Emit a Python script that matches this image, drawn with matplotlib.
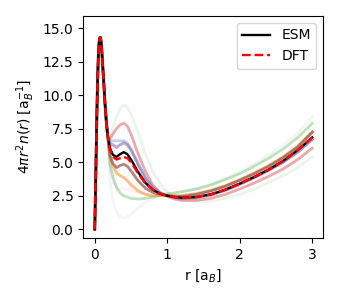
import numpy as np
import matplotlib
matplotlib.use("Agg")
import matplotlib.pyplot as plt

# shared part of all curves (core peak)
r_head = [0.0, 0.01, 0.02, 0.03, 0.04, 0.05, 0.06, 0.07, 0.08, 0.09, 0.1, 0.12, 0.14, 0.16, 0.18]
y_head = [0.0, 2.8, 5.8, 8.8, 11.3, 13.0, 13.9, 14.3, 14.3, 13.9, 13.1, 11.3, 9.5, 8.0, 6.9]

# part where the curves differ
r_tail = [0.21, 0.25, 0.3, 0.35, 0.4, 0.45, 0.5, 0.6, 0.7, 0.8, 0.9, 1.0,
          1.1, 1.2, 1.4, 1.6, 1.8, 2.0, 2.2, 2.4, 2.6, 2.8, 3.0]

esm = [6.05, 5.55, 5.4, 5.6, 5.75, 5.6, 5.2, 4.25, 3.45, 2.95, 2.65, 2.5,
       2.4, 2.35, 2.4, 2.6, 2.95, 3.4, 3.9, 4.45, 5.1, 5.9, 6.85]
dft = [5.95, 5.4, 5.2, 5.3, 5.4, 5.3, 5.0, 4.15, 3.4, 2.95, 2.65, 2.5,
       2.4, 2.35, 2.4, 2.6, 2.95, 3.4, 3.9, 4.45, 5.1, 5.9, 6.85]

it_blue = [6.5, 6.6, 6.6, 6.6, 6.6, 6.45, 6.0, 4.9, 3.85, 3.1, 2.7, 2.5,
           2.35, 2.3, 2.35, 2.55, 2.9, 3.35, 3.85, 4.4, 5.0, 5.75, 6.7]
it_orange = [5.4, 4.7, 4.2, 4.0, 3.85, 3.6, 3.3, 2.85, 2.6, 2.5, 2.5, 2.5,
             2.5, 2.5, 2.65, 2.9, 3.25, 3.7, 4.2, 4.75, 5.4, 6.2, 7.25]
it_green = [4.9, 3.9, 3.1, 2.7, 2.5, 2.4, 2.3, 2.25, 2.3, 2.4, 2.55, 2.65,
            2.7, 2.8, 3.0, 3.3, 3.7, 4.15, 4.7, 5.3, 6.0, 6.85, 7.9]
it_red = [6.7, 7.1, 7.5, 7.8, 7.9, 7.7, 7.1, 5.6, 4.3, 3.3, 2.75, 2.45,
          2.25, 2.15, 2.15, 2.3, 2.6, 3.0, 3.45, 3.95, 4.5, 5.2, 6.05]
it_purple = [6.4, 6.3, 6.1, 6.3, 6.45, 6.3, 5.9, 4.8, 3.8, 3.1, 2.7, 2.5,
             2.35, 2.3, 2.35, 2.55, 2.9, 3.35, 3.85, 4.4, 5.0, 5.75, 6.7]
it_brown = [5.5, 4.9, 4.6, 4.75, 4.85, 4.7, 4.35, 3.6, 3.05, 2.75, 2.6, 2.5,
            2.45, 2.45, 2.6, 2.85, 3.2, 3.65, 4.15, 4.7, 5.35, 6.15, 7.25]
it_pink = [4.6, 3.6, 3.1, 2.95, 3.0, 2.95, 2.85, 2.7, 2.6, 2.55, 2.55, 2.5,
           2.5, 2.5, 2.6, 2.85, 3.2, 3.6, 4.1, 4.65, 5.3, 6.05, 7.0]
it_gray = [3.6, 2.2, 1.3, 0.95, 0.85, 0.9, 1.1, 1.6, 2.0, 2.3, 2.45, 2.55,
           2.65, 2.75, 3.0, 3.35, 3.8, 4.3, 4.9, 5.55, 6.3, 7.2, 8.4]
it_pale = [6.9, 7.6, 8.4, 9.0, 9.25, 9.1, 8.6, 7.2, 5.6, 4.3, 3.4, 2.8,
           2.4, 2.2, 2.05, 2.1, 2.3, 2.6, 3.0, 3.5, 4.0, 4.6, 5.4]

iterations = [
    (it_pale, "tab:green", 0.1),
    (it_gray, "tab:gray", 0.07),
    (it_pink, "tab:pink", 0.1),
    (it_blue, "tab:blue", 0.3),
    (it_green, "tab:green", 0.3),
    (it_red, "tab:red", 0.4),
    (it_orange, "tab:orange", 0.5),
    (it_purple, "tab:purple", 0.6),
    (it_brown, "tab:brown", 0.7),
]

r = np.concatenate([r_head, r_tail])

fig = plt.figure(figsize=(3.38, 3.0), dpi=100)
ax = fig.add_axes([0.246, 0.207, 0.71, 0.74])

for tail, col, a in iterations:
    ax.plot(r, np.concatenate([y_head, tail]), color=col, alpha=a, lw=2)

ax.plot(r, np.concatenate([y_head, esm]), color="k", lw=1.7, label="ESM")
ax.plot(r, np.concatenate([y_head, dft]), color="r", ls="--", lw=1.7, label="DFT")

ax.set_xlim(-0.16, 3.15)
ax.set_ylim(-0.65, 15.92)
ax.set_yticks([0, 2.5, 5, 7.5, 10, 12.5, 15])
ax.set_xticks([0, 1, 2, 3])
ax.set_xlabel(r"r [a$_B$]")
ax.set_ylabel(r"$4\pi r^2 n(r)$ [a$_B^{-1}$]")
ax.legend(loc="upper right")

fig.savefig("out.png", dpi=100)
